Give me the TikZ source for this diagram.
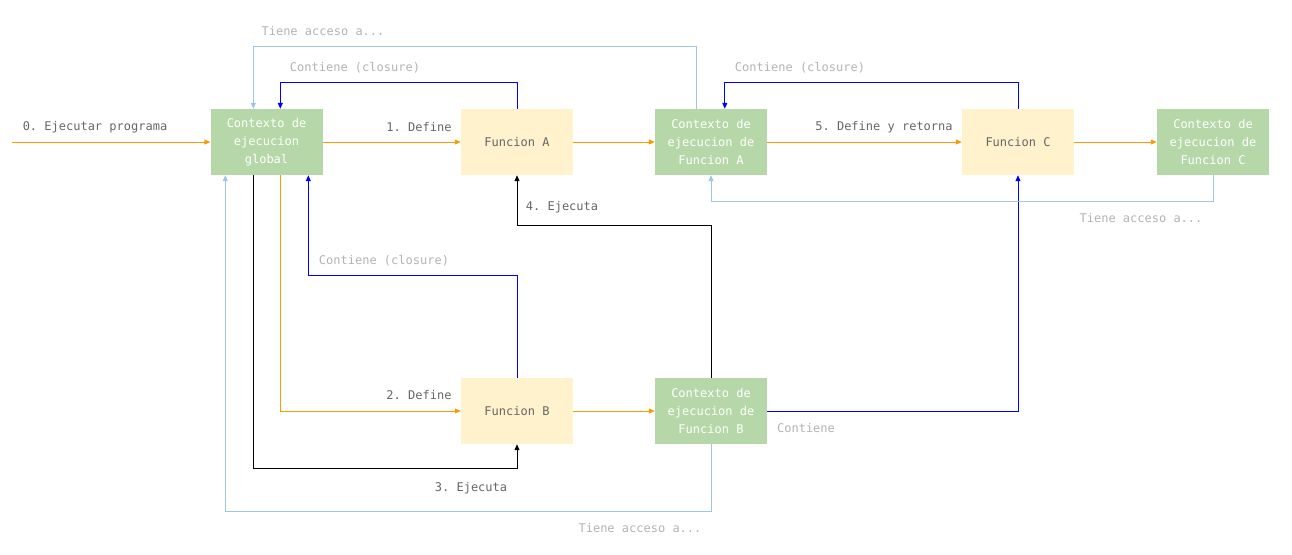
\documentclass[tikz,border=0pt]{standalone}
\usepackage{fontspec}
\setmonofont{DejaVu Sans Mono}
\usetikzlibrary{arrows.meta}
\definecolor{ctxgreen}{HTML}{B6D7A8}
\definecolor{fnyellow}{HTML}{FFF2CC}
\definecolor{orangeline}{HTML}{FF9900}
\definecolor{blueline}{HTML}{0000FF}
\definecolor{lightblueline}{HTML}{9FC5E8}
\definecolor{darklabel}{HTML}{666666}
\definecolor{lightlabel}{HTML}{B3B3B3}
\begin{document}
\begin{tikzpicture}[x=1pt,y=-1pt,
  font=\ttfamily\fontsize{12}{18}\selectfont,
  ctxbox/.style={fill=ctxgreen,draw=none,text=white,minimum width=112pt,minimum height=66pt,inner sep=0pt,align=center},
  fnbox/.style={fill=fnyellow,draw=none,text=darklabel,minimum width=112pt,minimum height=66pt,inner sep=0pt,align=center},
  tip/.style={-{Triangle[length=6pt,width=5pt]}},
  orangearrow/.style={tip,draw=orangeline,line width=1pt},
  blackarrow/.style={tip,draw=black,line width=1pt},
  bluearrow/.style={tip,draw=blueline,line width=1pt},
  lbarrow/.style={tip,draw=lightblueline,line width=1pt},
  darklbl/.style={text=darklabel,inner sep=0pt},
  lightlbl/.style={text=lightlabel,inner sep=0pt}
]
\useasboundingbox (0,0) rectangle (1292,554);

\node[ctxbox] (glob) at (266.5,142) {Contexto de\\ejecucion\\global};
\node[fnbox] (fnA) at (517,142) {Funcion A};
\node[ctxbox] (ctxA) at (711,142) {Contexto de\\ejecucion de\\Funcion A};
\node[fnbox] (fnC) at (1018,142) {Funcion C};
\node[ctxbox] (ctxC) at (1213,142) {Contexto de\\ejecucion de\\Funcion C};
\node[fnbox] (fnB) at (517,411) {Funcion B};
\node[ctxbox] (ctxB) at (711,411) {Contexto de\\ejecucion de\\Funcion B};

\coordinate (start) at (12,142);

% orange
\draw[orangearrow] (start) -- (glob.west);
\draw[orangearrow] (glob.east) -- (fnA.west);
\draw[orangearrow] (fnA.east) -- (ctxA.west);
\draw[orangearrow] (ctxA.east) -- (fnC.west);
\draw[orangearrow] (fnC.east) -- (ctxC.west);
\draw[orangearrow] ([xshift=70pt]glob.south west) |- (fnB.west);
\draw[orangearrow,line width=0.8pt] (fnB.east) -- (ctxB.west);

% black
\draw[blackarrow] ([xshift=43pt]glob.south west) -- ++(0,293) -| (fnB.south);
\draw[blackarrow] (ctxB.north) -- ++(0,-152) -| (fnA.south);

% blue
\draw[bluearrow] (fnA.north) -- ++(0,-26) -| ([xshift=70pt]glob.north west);
\draw[bluearrow] (fnB.north) -- ++(0,-102) -| ([xshift=98pt]glob.south west);
\draw[bluearrow] (fnC.north) -- ++(0,-26) -| ([xshift=70pt]ctxA.north west);
\draw[bluearrow] (ctxB.east) -| (fnC.south);

% light blue
\draw[lbarrow] ([xshift=42pt]ctxA.north west) -- ++(0,-62) -| ([xshift=43pt]glob.north west);
\draw[lbarrow] (ctxC.south) -- ++(0,26) -| (ctxA.south);
\draw[lbarrow] (ctxB.south) -- ++(0,67) -| ([xshift=15pt]glob.south west);

% labels
\node[darklbl] (l0) at (95,127) {0. Ejecutar programa};
\node[darklbl] (l1) at (419,127) {1. Define};
\node[darklbl] (l2) at (419,395) {2. Define};
\node[darklbl] (l3) at (471,488) {3. Ejecuta};
\node[darklbl] (l4) at (562,207) {4. Ejecuta};
\node[darklbl] (l5) at (884,127) {5. Define y retorna};

\node[lightlbl] (c1) at (355,68) {Contiene (closure)};
\node[lightlbl] (c2) at (384,261) {Contiene (closure)};
\node[lightlbl] (c3) at (800,68) {Contiene (closure)};
\node[lightlbl] (c4) at (806,428) {Contiene};

\node[lightlbl] (t1) at (323,31) {Tiene acceso a...};
\node[lightlbl] (t2) at (1141,218) {Tiene acceso a...};
\node[lightlbl] (t3) at (640,528) {Tiene acceso a...};
\end{tikzpicture}
\end{document}
